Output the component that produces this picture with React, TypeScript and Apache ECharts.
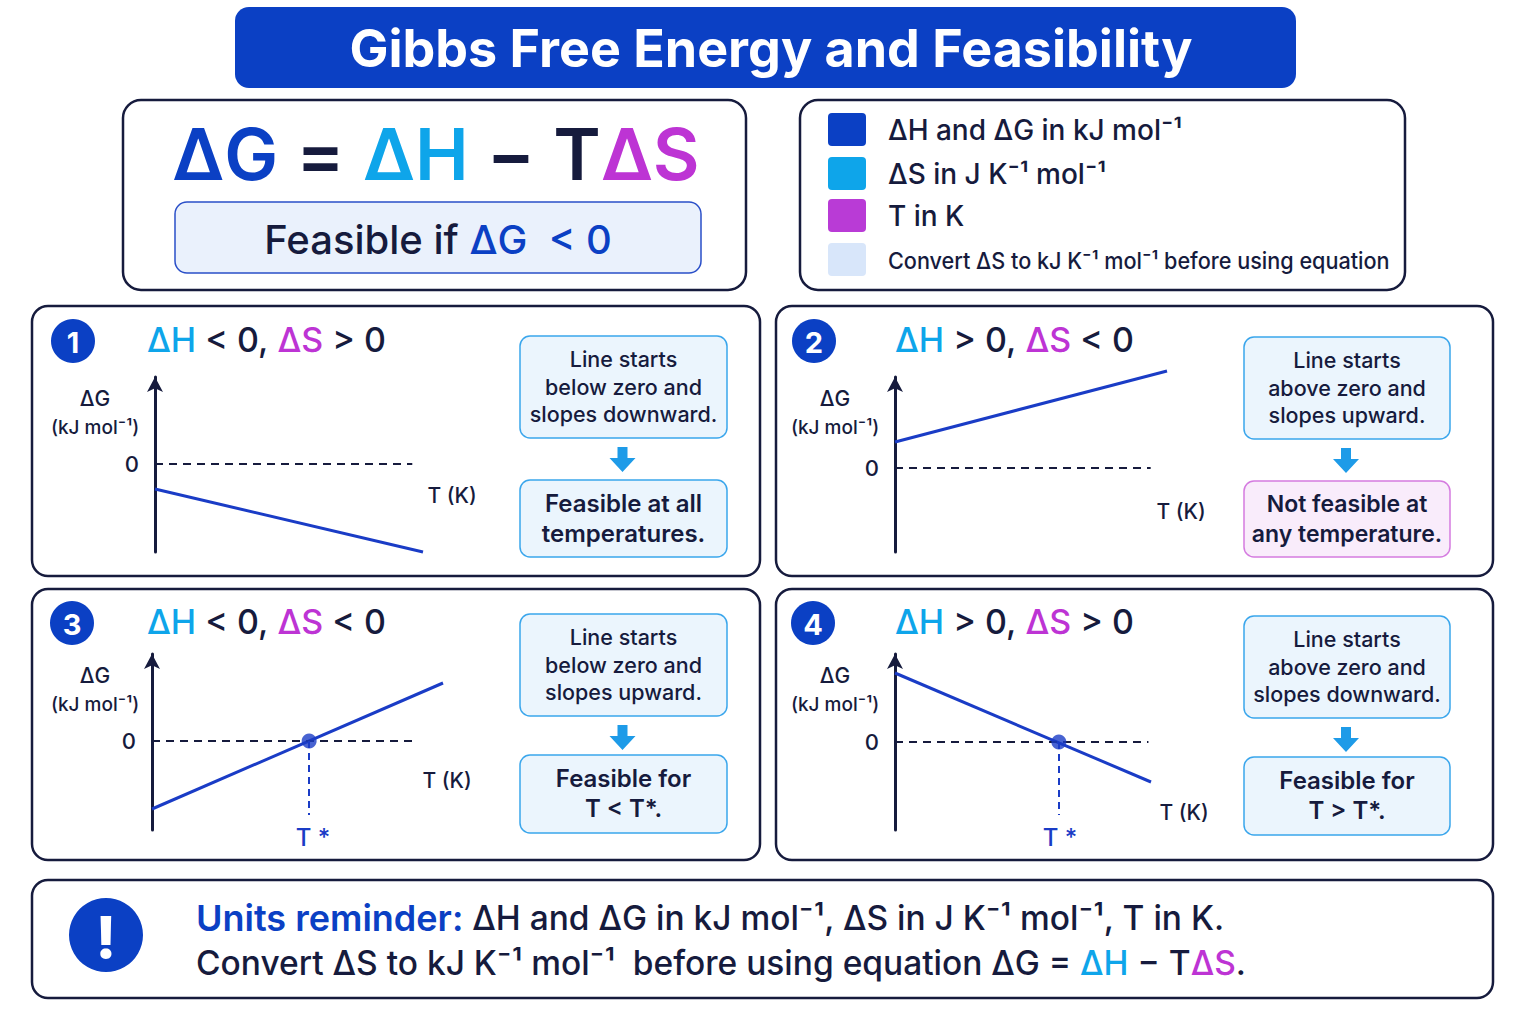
import { useEffect, useRef } from 'react'
import * as echarts from 'echarts'

const FONT = "Inter, 'Noto Sans', 'DejaVu Sans', sans-serif"
const NAVY = '#161b3d'
const BLUE = '#0b40c4'
const SKY = '#0ea5ea'
const PURPLE = '#bd34d4'
const LINE = '#1a3cc6'

// each mini chart: T from 0 to 100, ΔG in arbitrary kJ mol⁻¹ units
const tRange = [0, 100]
const dG1 = [-25, -88] // ΔH < 0, ΔS > 0
const dG2 = [26, 97] // ΔH > 0, ΔS < 0
const dG3 = [-68, 58] // ΔH < 0, ΔS < 0
const dG4 = [69, -40] // ΔH > 0, ΔS > 0
const panelLines = [dG1, dG2, dG3, dG4]
const yMins = [-88, -84, -89, -88]
const yMaxs = [87, 91, 87, 88]
const zeroLineEnds = [96, 94, 91, 99]
const tStars = [null, null, 54, 64]
const tStarDrops = [0, 0, -74, -73]

const headers = [
  ['ΔH', ' < 0, ', 'ΔS', ' > 0'],
  ['ΔH', ' > 0, ', 'ΔS', ' < 0'],
  ['ΔH', ' < 0, ', 'ΔS', ' < 0'],
  ['ΔH', ' > 0, ', 'ΔS', ' > 0']
]
const topNotes = [
  ['Line starts', 'below zero and', 'slopes downward.'],
  ['Line starts', 'above zero and', 'slopes upward.'],
  ['Line starts', 'below zero and', 'slopes upward.'],
  ['Line starts', 'above zero and', 'slopes downward.']
]
const verdicts = [
  ['Feasible at all', 'temperatures.'],
  ['Not feasible at', 'any temperature.'],
  ['Feasible for', 'T < T*.'],
  ['Feasible for', 'T > T*.']
]
const legendItems = [
  'ΔH and ΔG in kJ mol⁻¹',
  'ΔS in J K⁻¹ mol⁻¹',
  'T in K',
  'Convert ΔS to kJ K⁻¹ mol⁻¹ before using equation'
]
const legendColors = [BLUE, SKY, '#b93bd6', '#d8e6fa']

// layout of the four panels
const panelBoxes = [
  [32, 306, 728, 270],
  [776, 306, 717, 270],
  [32, 589, 728, 271],
  [776, 589, 717, 271]
]
const grids = [
  { left: 155, top: 377, width: 268, height: 175 },
  { left: 895, top: 377, width: 272, height: 175 },
  { left: 152, top: 654, width: 291, height: 176 },
  { left: 895, top: 654, width: 256, height: 176 }
]

const rs = (fill: string, fontSize: number, fontWeight: number | string = 500) => ({
  fill, fontSize, fontWeight, fontFamily: FONT
})

const txt = (x: number, y: number, text: string, size: number, fill = NAVY, weight: number | string = 500, align = 'center') => ({
  type: 'text',
  x,
  y,
  style: { text, fontSize: size, fill, fontWeight: weight, fontFamily: FONT, align, verticalAlign: 'middle' }
})

const box = (x: number, y: number, w: number, h: number, r: number, fill: string, stroke: string, lw: number) => ({
  type: 'rect',
  shape: { x, y, width: w, height: h, r },
  style: { fill, stroke, lineWidth: lw }
})

const downArrow = (cx: number, y: number) => ({
  type: 'polygon',
  shape: {
    points: [
      [cx - 5, y], [cx + 5, y], [cx + 5, y + 11], [cx + 13, y + 11],
      [cx, y + 25], [cx - 13, y + 11], [cx - 5, y + 11]
    ]
  },
  style: { fill: '#1e9be8' }
})

function buildGraphics() {
  const g: any[] = []
  // title
  g.push(box(235, 7, 1061, 81, 14, BLUE, BLUE, 0))
  g.push(txt(771, 48, 'Gibbs Free Energy and Feasibility', 52, '#ffffff', 700))

  // equation card
  g.push(box(123, 100, 623, 190, 18, '#ffffff', NAVY, 2.5))
  g.push({
    type: 'text', x: 436, y: 153,
    style: {
      text: '{g|ΔG}{n| = }{s|ΔH}{n| − }{n|T}{p|ΔS}',
      align: 'center', verticalAlign: 'middle',
      rich: { g: rs(BLUE, 72, 600), n: rs(NAVY, 72, 600), s: rs(SKY, 72, 600), p: rs(PURPLE, 72, 600) }
    }
  })
  g.push(box(175, 202, 526, 71, 12, '#eaf1fc', '#2a4fc8', 1.5))
  g.push({
    type: 'text', x: 438, y: 239,
    style: {
      text: '{n|Feasible if }{g|ΔG  < 0}',
      align: 'center', verticalAlign: 'middle',
      rich: { n: rs(NAVY, 40, 500), g: rs(BLUE, 40, 500) }
    }
  })

  // legend card
  g.push(box(800, 100, 605, 190, 18, '#ffffff', NAVY, 2.5))
  const legY = [113, 157, 199, 243]
  legendItems.forEach((item, i) => {
    g.push(box(828, legY[i], 38, 33, 4, legendColors[i], legendColors[i], 0))
    const t: any = txt(888, legY[i] + 17, item, i === 3 ? 23 : 28, NAVY, 500, 'left')
    if (i === 3) t.scaleX = 0.94
    g.push(t)
  })

  // panels
  const circleC = [[73, 341], [814, 341], [72, 623], [813, 623]]
  const headX = [147, 895, 147, 895]
  const headY = [339, 339, 621, 621]
  const axTitle = [[95, 398], [835, 398], [95, 675], [835, 675]]
  const tkPos = [[452, 495], [1181, 511], [447, 780], [1184, 812]]
  const topBox = [[520, 336, 207, 102], [1244, 337, 206, 102], [520, 614, 207, 102], [1244, 616, 206, 102]]
  const botBox = [[520, 480, 207, 77], [1244, 481, 206, 76], [520, 755, 207, 78], [1244, 757, 206, 78]]

  panelBoxes.forEach((b, i) => {
    g.push(box(b[0], b[1], b[2], b[3], 16, '#ffffff', NAVY, 2.5))
    g.push({ type: 'circle', shape: { cx: circleC[i][0], cy: circleC[i][1], r: 22 }, style: { fill: BLUE } })
    g.push(txt(circleC[i][0], circleC[i][1] + 1, String(i + 1), 29, '#ffffff', 700))
    const h = headers[i]
    g.push({
      type: 'text', x: headX[i], y: headY[i],
      style: {
        text: `{s|${h[0]}}{n|${h[1]}}{p|${h[2]}}{n|${h[3]}}`,
        align: 'left', verticalAlign: 'middle',
        rich: { s: rs(SKY, 34, 500), n: rs(NAVY, 34, 500), p: rs(PURPLE, 34, 500) }
      }
    })
    g.push(txt(axTitle[i][0], axTitle[i][1], 'ΔG', 21, NAVY, 500))
    g.push(txt(axTitle[i][0], axTitle[i][1] + 29, '(kJ mol⁻¹)', 19, NAVY, 500))
    g.push(txt(tkPos[i][0], tkPos[i][1], 'T (K)', 21, NAVY, 500))

    const tb = topBox[i]
    g.push(box(tb[0], tb[1], tb[2], tb[3], 10, '#ebf5fd', '#3aa6ec', 1.5))
    topNotes[i].forEach((line, j) => {
      g.push(txt(tb[0] + tb[2] / 2, tb[1] + 23 + j * 27.5, line, 21.5, NAVY, 500))
    })
    g.push(downArrow(tb[0] + tb[2] / 2 - 1, tb[1] + tb[3] + 9))
    const bb = botBox[i]
    const bad = i === 1
    g.push(box(bb[0], bb[1], bb[2], bb[3], 10, bad ? '#f9ecfb' : '#ebf5fd', bad ? '#d57be0' : '#3aa6ec', 1.5))
    verdicts[i].forEach((line, j) => {
      g.push(txt(bb[0] + bb[2] / 2, bb[1] + 23 + j * 30, line, bad ? 23 : 24, NAVY, 600))
    })
  })
  g.push(txt(313, 837, 'T *', 24, LINE, 500))
  g.push(txt(1060, 837, 'T *', 24, LINE, 500))

  // units reminder
  g.push(box(32, 880, 1461, 118, 16, '#ffffff', NAVY, 2.5))
  g.push({ type: 'circle', shape: { cx: 106, cy: 935, r: 37 }, style: { fill: BLUE } })
  g.push(txt(106, 937, '!', 58, '#ffffff', 800))
  g.push({
    type: 'text', x: 196, y: 918,
    style: {
      text: '{u|Units reminder:}{n| ΔH and ΔG in kJ mol⁻¹, ΔS in J K⁻¹ mol⁻¹, T in K.}',
      align: 'left', verticalAlign: 'middle',
      rich: { u: rs(BLUE, 36, 600), n: rs(NAVY, 33.5, 500) }
    }
  })
  g.push({
    type: 'text', x: 196, y: 963,
    style: {
      text: '{n|Convert ΔS to kJ K⁻¹ mol⁻¹  before using equation ΔG = }{s|ΔH}{n| − T}{p|ΔS}{n|.}',
      align: 'left', verticalAlign: 'middle',
      rich: { n: rs(NAVY, 33.5, 500), s: rs(SKY, 33.5, 500), p: rs(PURPLE, 33.5, 500) }
    }
  })
  return g
}

function buildOption(): echarts.EChartsOption {
  const dash = { type: [8, 6] as any, color: NAVY, width: 2 }
  const series: any[] = panelLines.map((dG, i) => {
    const mlData: any[] = [[{ coord: [tRange[0], 0], lineStyle: dash }, { coord: [zeroLineEnds[i], 0] }]]
    const ts = tStars[i]
    if (ts !== null) {
      mlData.push([
        { coord: [ts, 0], lineStyle: { type: [7, 5], color: LINE, width: 2 } },
        { coord: [ts, tStarDrops[i]] }
      ])
    }
    return {
      type: 'line',
      xAxisIndex: i,
      yAxisIndex: i,
      data: [[tRange[0], dG[0]], [tRange[1], dG[1]]],
      symbol: 'none',
      clip: false,
      lineStyle: { color: LINE, width: 3 },
      markLine: {
        silent: true,
        symbol: ['none', 'none'],
        label: { show: false },
        lineStyle: dash,
        data: mlData
      },
      z: 3
    }
  })
  tStars.forEach((ts, i) => {
    if (ts === null) return
    series.push({
      type: 'scatter',
      xAxisIndex: i,
      yAxisIndex: i,
      data: [[ts, 0]],
      symbolSize: 15,
      itemStyle: { color: LINE },
      z: 5
    })
  })

  return {
    animation: false,
    backgroundColor: '#ffffff',
    grid: grids.map((g) => ({ ...g, containLabel: false })),
    xAxis: grids.map((_, i) => ({
      type: 'value',
      gridIndex: i,
      min: tRange[0],
      max: tRange[1],
      show: false
    })),
    yAxis: grids.map((_, i) => ({
      type: 'value',
      gridIndex: i,
      min: yMins[i],
      max: yMaxs[i],
      axisLine: {
        show: true,
        onZero: false,
        symbol: ['none', 'arrow'],
        symbolSize: [12, 15],
        lineStyle: { color: NAVY, width: 3 }
      },
      axisTick: { show: false },
      splitLine: { show: false },
      axisLabel: {
        customValues: [0],
        color: NAVY,
        fontSize: 22,
        fontFamily: FONT,
        fontWeight: 500,
        margin: 16
      }
    })) as any,
    graphic: { elements: buildGraphics() } as any,
    series
  }
}

export default function App() {
  const ref = useRef<HTMLDivElement>(null)

  useEffect(() => {
    if (!ref.current) return
    const chart = echarts.init(ref.current, undefined, { renderer: 'svg' })
    chart.setOption(buildOption())
    return () => chart.dispose()
  }, [])

  return (
    <div
      ref={ref}
      style={{ position: 'absolute', left: 0, top: 0, width: 1536, height: 1024, background: '#fff' }}
    />
  )
}
